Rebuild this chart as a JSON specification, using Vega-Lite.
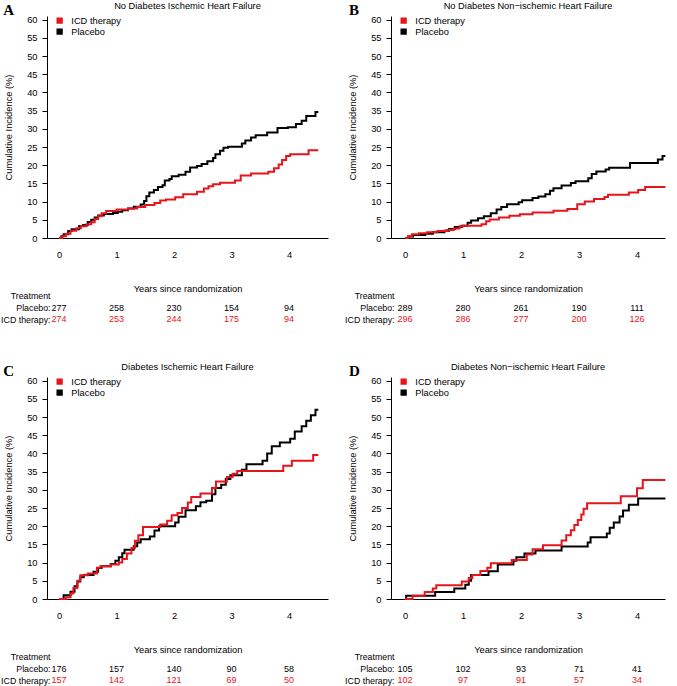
{
  "$schema": "https://vega.github.io/schema/vega-lite/v6.json",
  "padding": {"left": 0, "top": 1, "right": 0, "bottom": 0},
  "background": "white",
  "config": {
    "font": "Liberation Sans",
    "view": {"stroke": null},
    "axis": {"domainColor": "#000", "tickColor": "#000", "labelColor": "#000", "titleColor": "#000", "labelFontSize": 9.3, "titleFontSize": 9.3, "titleFontWeight": "normal", "grid": false, "labelFont": "Liberation Sans", "titleFont": "Liberation Sans", "labelOverlap": false},
    "title": {"fontSize": 9.3, "fontWeight": "normal", "color": "#000", "font": "Liberation Sans"},
    "legend": {"labelFontSize": 9.3, "labelColor": "#000", "labelFont": "Liberation Sans"}
  },
  "datasets": {
    "lineA": [
      {"group": "Placebo", "t": 0, "ci": 0}, {"group": "Placebo", "t": 0.04, "ci": 0.5}, {"group": "Placebo", "t": 0.08, "ci": 1.0}, {"group": "Placebo", "t": 0.16, "ci": 1.9}, {"group": "Placebo", "t": 0.22, "ci": 2.4}, {"group": "Placebo", "t": 0.35, "ci": 3.3}, {"group": "Placebo", "t": 0.42, "ci": 3.6}, {"group": "Placebo", "t": 0.5, "ci": 4.4}, {"group": "Placebo", "t": 0.56, "ci": 5.0}, {"group": "Placebo", "t": 0.62, "ci": 5.6}, {"group": "Placebo", "t": 0.68, "ci": 6.2}, {"group": "Placebo", "t": 0.78, "ci": 6.6}, {"group": "Placebo", "t": 0.94, "ci": 6.9}, {"group": "Placebo", "t": 1.02, "ci": 7.2}, {"group": "Placebo", "t": 1.1, "ci": 7.6}, {"group": "Placebo", "t": 1.2, "ci": 8.1}, {"group": "Placebo", "t": 1.3, "ci": 8.6}, {"group": "Placebo", "t": 1.42, "ci": 9.2}, {"group": "Placebo", "t": 1.48, "ci": 10.2}, {"group": "Placebo", "t": 1.52, "ci": 11.5}, {"group": "Placebo", "t": 1.57, "ci": 12.5}, {"group": "Placebo", "t": 1.65, "ci": 13.2}, {"group": "Placebo", "t": 1.72, "ci": 14.0}, {"group": "Placebo", "t": 1.8, "ci": 14.5}, {"group": "Placebo", "t": 1.84, "ci": 15.8}, {"group": "Placebo", "t": 1.92, "ci": 16.2}, {"group": "Placebo", "t": 1.96, "ci": 17.0}, {"group": "Placebo", "t": 2.08, "ci": 17.4}, {"group": "Placebo", "t": 2.2, "ci": 18.2}, {"group": "Placebo", "t": 2.28, "ci": 19.4}, {"group": "Placebo", "t": 2.4, "ci": 19.8}, {"group": "Placebo", "t": 2.48, "ci": 20.3}, {"group": "Placebo", "t": 2.58, "ci": 21.1}, {"group": "Placebo", "t": 2.68, "ci": 22.0}, {"group": "Placebo", "t": 2.72, "ci": 23.0}, {"group": "Placebo", "t": 2.8, "ci": 24.0}, {"group": "Placebo", "t": 2.86, "ci": 24.8}, {"group": "Placebo", "t": 2.94, "ci": 25.1}, {"group": "Placebo", "t": 3.18, "ci": 26.0}, {"group": "Placebo", "t": 3.24, "ci": 26.8}, {"group": "Placebo", "t": 3.34, "ci": 27.6}, {"group": "Placebo", "t": 3.42, "ci": 28.2}, {"group": "Placebo", "t": 3.62, "ci": 29.0}, {"group": "Placebo", "t": 3.8, "ci": 30.2}, {"group": "Placebo", "t": 3.98, "ci": 30.4}, {"group": "Placebo", "t": 4.12, "ci": 31.3}, {"group": "Placebo", "t": 4.22, "ci": 32.2}, {"group": "Placebo", "t": 4.3, "ci": 33.5}, {"group": "Placebo", "t": 4.46, "ci": 34.6}, {"group": "Placebo", "t": 4.51, "ci": 34.6},
      {"group": "ICD therapy", "t": 0, "ci": 0}, {"group": "ICD therapy", "t": 0.06, "ci": 0.5}, {"group": "ICD therapy", "t": 0.12, "ci": 1.2}, {"group": "ICD therapy", "t": 0.2, "ci": 2.0}, {"group": "ICD therapy", "t": 0.3, "ci": 2.7}, {"group": "ICD therapy", "t": 0.38, "ci": 3.2}, {"group": "ICD therapy", "t": 0.48, "ci": 3.8}, {"group": "ICD therapy", "t": 0.56, "ci": 4.3}, {"group": "ICD therapy", "t": 0.62, "ci": 5.2}, {"group": "ICD therapy", "t": 0.68, "ci": 6.0}, {"group": "ICD therapy", "t": 0.74, "ci": 6.8}, {"group": "ICD therapy", "t": 0.82, "ci": 7.4}, {"group": "ICD therapy", "t": 1.0, "ci": 7.8}, {"group": "ICD therapy", "t": 1.2, "ci": 8.1}, {"group": "ICD therapy", "t": 1.36, "ci": 8.5}, {"group": "ICD therapy", "t": 1.5, "ci": 9.1}, {"group": "ICD therapy", "t": 1.66, "ci": 9.6}, {"group": "ICD therapy", "t": 1.76, "ci": 10.3}, {"group": "ICD therapy", "t": 1.86, "ci": 10.6}, {"group": "ICD therapy", "t": 2.02, "ci": 11.2}, {"group": "ICD therapy", "t": 2.16, "ci": 12.0}, {"group": "ICD therapy", "t": 2.4, "ci": 12.7}, {"group": "ICD therapy", "t": 2.52, "ci": 13.6}, {"group": "ICD therapy", "t": 2.6, "ci": 14.2}, {"group": "ICD therapy", "t": 2.68, "ci": 14.8}, {"group": "ICD therapy", "t": 2.8, "ci": 15.2}, {"group": "ICD therapy", "t": 3.06, "ci": 15.8}, {"group": "ICD therapy", "t": 3.16, "ci": 17.2}, {"group": "ICD therapy", "t": 3.34, "ci": 17.7}, {"group": "ICD therapy", "t": 3.64, "ci": 18.2}, {"group": "ICD therapy", "t": 3.74, "ci": 19.2}, {"group": "ICD therapy", "t": 3.82, "ci": 20.2}, {"group": "ICD therapy", "t": 3.88, "ci": 21.4}, {"group": "ICD therapy", "t": 3.95, "ci": 22.5}, {"group": "ICD therapy", "t": 4.02, "ci": 23.0}, {"group": "ICD therapy", "t": 4.34, "ci": 24.1}, {"group": "ICD therapy", "t": 4.51, "ci": 24.1}
    ],
    "lineB": [
      {"group": "Placebo", "t": 0, "ci": 0}, {"group": "Placebo", "t": 0.06, "ci": 0.4}, {"group": "Placebo", "t": 0.14, "ci": 0.8}, {"group": "Placebo", "t": 0.35, "ci": 1.2}, {"group": "Placebo", "t": 0.48, "ci": 1.6}, {"group": "Placebo", "t": 0.68, "ci": 2.0}, {"group": "Placebo", "t": 0.76, "ci": 2.5}, {"group": "Placebo", "t": 0.86, "ci": 3.0}, {"group": "Placebo", "t": 0.98, "ci": 3.4}, {"group": "Placebo", "t": 1.08, "ci": 4.2}, {"group": "Placebo", "t": 1.14, "ci": 4.8}, {"group": "Placebo", "t": 1.26, "ci": 5.4}, {"group": "Placebo", "t": 1.36, "ci": 6.0}, {"group": "Placebo", "t": 1.48, "ci": 6.8}, {"group": "Placebo", "t": 1.58, "ci": 7.8}, {"group": "Placebo", "t": 1.66, "ci": 8.5}, {"group": "Placebo", "t": 1.76, "ci": 9.3}, {"group": "Placebo", "t": 1.96, "ci": 9.8}, {"group": "Placebo", "t": 2.02, "ci": 10.4}, {"group": "Placebo", "t": 2.2, "ci": 11.0}, {"group": "Placebo", "t": 2.3, "ci": 11.4}, {"group": "Placebo", "t": 2.42, "ci": 12.0}, {"group": "Placebo", "t": 2.5, "ci": 13.0}, {"group": "Placebo", "t": 2.56, "ci": 13.7}, {"group": "Placebo", "t": 2.7, "ci": 14.4}, {"group": "Placebo", "t": 2.86, "ci": 15.1}, {"group": "Placebo", "t": 2.94, "ci": 15.6}, {"group": "Placebo", "t": 3.16, "ci": 16.4}, {"group": "Placebo", "t": 3.22, "ci": 17.6}, {"group": "Placebo", "t": 3.3, "ci": 18.3}, {"group": "Placebo", "t": 3.46, "ci": 18.8}, {"group": "Placebo", "t": 3.52, "ci": 19.3}, {"group": "Placebo", "t": 3.88, "ci": 20.6}, {"group": "Placebo", "t": 4.36, "ci": 21.6}, {"group": "Placebo", "t": 4.44, "ci": 22.5}, {"group": "Placebo", "t": 4.49, "ci": 22.5},
      {"group": "ICD therapy", "t": 0, "ci": 0}, {"group": "ICD therapy", "t": 0.05, "ci": 0.5}, {"group": "ICD therapy", "t": 0.12, "ci": 1.0}, {"group": "ICD therapy", "t": 0.24, "ci": 1.3}, {"group": "ICD therapy", "t": 0.38, "ci": 1.6}, {"group": "ICD therapy", "t": 0.56, "ci": 1.9}, {"group": "ICD therapy", "t": 0.72, "ci": 2.2}, {"group": "ICD therapy", "t": 0.84, "ci": 2.6}, {"group": "ICD therapy", "t": 0.94, "ci": 3.2}, {"group": "ICD therapy", "t": 1.0, "ci": 3.4}, {"group": "ICD therapy", "t": 1.32, "ci": 3.8}, {"group": "ICD therapy", "t": 1.4, "ci": 4.6}, {"group": "ICD therapy", "t": 1.46, "ci": 5.1}, {"group": "ICD therapy", "t": 1.62, "ci": 5.6}, {"group": "ICD therapy", "t": 1.8, "ci": 6.1}, {"group": "ICD therapy", "t": 1.98, "ci": 6.5}, {"group": "ICD therapy", "t": 2.2, "ci": 7.0}, {"group": "ICD therapy", "t": 2.56, "ci": 7.5}, {"group": "ICD therapy", "t": 2.8, "ci": 8.0}, {"group": "ICD therapy", "t": 2.97, "ci": 9.3}, {"group": "ICD therapy", "t": 3.1, "ci": 10.0}, {"group": "ICD therapy", "t": 3.26, "ci": 10.7}, {"group": "ICD therapy", "t": 3.44, "ci": 11.3}, {"group": "ICD therapy", "t": 3.5, "ci": 11.9}, {"group": "ICD therapy", "t": 3.86, "ci": 12.5}, {"group": "ICD therapy", "t": 4.02, "ci": 13.2}, {"group": "ICD therapy", "t": 4.14, "ci": 14.0}, {"group": "ICD therapy", "t": 4.49, "ci": 14.0}
    ],
    "lineC": [
      {"group": "Placebo", "t": 0, "ci": 0}, {"group": "Placebo", "t": 0.08, "ci": 1.0}, {"group": "Placebo", "t": 0.2, "ci": 2.0}, {"group": "Placebo", "t": 0.27, "ci": 3.5}, {"group": "Placebo", "t": 0.32, "ci": 4.8}, {"group": "Placebo", "t": 0.37, "ci": 6.0}, {"group": "Placebo", "t": 0.43, "ci": 6.6}, {"group": "Placebo", "t": 0.6, "ci": 7.5}, {"group": "Placebo", "t": 0.68, "ci": 8.5}, {"group": "Placebo", "t": 0.74, "ci": 9.0}, {"group": "Placebo", "t": 0.9, "ci": 9.6}, {"group": "Placebo", "t": 0.98, "ci": 10.5}, {"group": "Placebo", "t": 1.04, "ci": 11.5}, {"group": "Placebo", "t": 1.1, "ci": 12.6}, {"group": "Placebo", "t": 1.14, "ci": 13.5}, {"group": "Placebo", "t": 1.3, "ci": 14.5}, {"group": "Placebo", "t": 1.36, "ci": 15.5}, {"group": "Placebo", "t": 1.42, "ci": 16.4}, {"group": "Placebo", "t": 1.58, "ci": 17.2}, {"group": "Placebo", "t": 1.66, "ci": 18.8}, {"group": "Placebo", "t": 1.74, "ci": 20.0}, {"group": "Placebo", "t": 2.02, "ci": 21.0}, {"group": "Placebo", "t": 2.08, "ci": 22.6}, {"group": "Placebo", "t": 2.2, "ci": 24.4}, {"group": "Placebo", "t": 2.38, "ci": 25.5}, {"group": "Placebo", "t": 2.46, "ci": 26.6}, {"group": "Placebo", "t": 2.56, "ci": 27.0}, {"group": "Placebo", "t": 2.66, "ci": 28.8}, {"group": "Placebo", "t": 2.72, "ci": 30.5}, {"group": "Placebo", "t": 2.82, "ci": 31.4}, {"group": "Placebo", "t": 2.9, "ci": 33.0}, {"group": "Placebo", "t": 2.98, "ci": 34.0}, {"group": "Placebo", "t": 3.18, "ci": 35.5}, {"group": "Placebo", "t": 3.26, "ci": 37.0}, {"group": "Placebo", "t": 3.54, "ci": 38.0}, {"group": "Placebo", "t": 3.62, "ci": 40.0}, {"group": "Placebo", "t": 3.7, "ci": 42.0}, {"group": "Placebo", "t": 3.84, "ci": 43.0}, {"group": "Placebo", "t": 4.02, "ci": 44.0}, {"group": "Placebo", "t": 4.1, "ci": 46.0}, {"group": "Placebo", "t": 4.22, "ci": 47.5}, {"group": "Placebo", "t": 4.3, "ci": 49.0}, {"group": "Placebo", "t": 4.38, "ci": 50.5}, {"group": "Placebo", "t": 4.46, "ci": 52.0}, {"group": "Placebo", "t": 4.51, "ci": 52.0},
      {"group": "ICD therapy", "t": 0, "ci": 0}, {"group": "ICD therapy", "t": 0.12, "ci": 0.5}, {"group": "ICD therapy", "t": 0.2, "ci": 1.5}, {"group": "ICD therapy", "t": 0.25, "ci": 3.0}, {"group": "ICD therapy", "t": 0.32, "ci": 5.0}, {"group": "ICD therapy", "t": 0.37, "ci": 6.5}, {"group": "ICD therapy", "t": 0.5, "ci": 7.0}, {"group": "ICD therapy", "t": 0.66, "ci": 8.6}, {"group": "ICD therapy", "t": 0.72, "ci": 9.0}, {"group": "ICD therapy", "t": 0.9, "ci": 9.5}, {"group": "ICD therapy", "t": 1.04, "ci": 10.0}, {"group": "ICD therapy", "t": 1.1, "ci": 11.0}, {"group": "ICD therapy", "t": 1.18, "ci": 12.5}, {"group": "ICD therapy", "t": 1.26, "ci": 14.0}, {"group": "ICD therapy", "t": 1.32, "ci": 16.0}, {"group": "ICD therapy", "t": 1.38, "ci": 17.5}, {"group": "ICD therapy", "t": 1.46, "ci": 19.8}, {"group": "ICD therapy", "t": 1.76, "ci": 20.5}, {"group": "ICD therapy", "t": 1.88, "ci": 21.5}, {"group": "ICD therapy", "t": 1.96, "ci": 23.0}, {"group": "ICD therapy", "t": 2.06, "ci": 23.6}, {"group": "ICD therapy", "t": 2.14, "ci": 25.0}, {"group": "ICD therapy", "t": 2.24, "ci": 26.5}, {"group": "ICD therapy", "t": 2.3, "ci": 28.0}, {"group": "ICD therapy", "t": 2.46, "ci": 29.0}, {"group": "ICD therapy", "t": 2.66, "ci": 30.5}, {"group": "ICD therapy", "t": 2.73, "ci": 32.3}, {"group": "ICD therapy", "t": 2.92, "ci": 33.5}, {"group": "ICD therapy", "t": 3.02, "ci": 34.4}, {"group": "ICD therapy", "t": 3.1, "ci": 35.2}, {"group": "ICD therapy", "t": 3.9, "ci": 36.6}, {"group": "ICD therapy", "t": 4.05, "ci": 38.0}, {"group": "ICD therapy", "t": 4.42, "ci": 39.6}, {"group": "ICD therapy", "t": 4.51, "ci": 39.6}
    ],
    "lineD": [
      {"group": "Placebo", "t": 0, "ci": 0}, {"group": "Placebo", "t": 0.02, "ci": 0.9}, {"group": "Placebo", "t": 0.52, "ci": 1.9}, {"group": "Placebo", "t": 0.85, "ci": 2.9}, {"group": "Placebo", "t": 1.04, "ci": 3.9}, {"group": "Placebo", "t": 1.1, "ci": 5.0}, {"group": "Placebo", "t": 1.14, "ci": 6.6}, {"group": "Placebo", "t": 1.44, "ci": 7.6}, {"group": "Placebo", "t": 1.6, "ci": 9.5}, {"group": "Placebo", "t": 1.87, "ci": 10.5}, {"group": "Placebo", "t": 1.92, "ci": 11.5}, {"group": "Placebo", "t": 2.06, "ci": 12.5}, {"group": "Placebo", "t": 2.25, "ci": 13.3}, {"group": "Placebo", "t": 2.7, "ci": 14.4}, {"group": "Placebo", "t": 3.15, "ci": 15.5}, {"group": "Placebo", "t": 3.2, "ci": 17.0}, {"group": "Placebo", "t": 3.48, "ci": 18.0}, {"group": "Placebo", "t": 3.53, "ci": 19.6}, {"group": "Placebo", "t": 3.6, "ci": 21.0}, {"group": "Placebo", "t": 3.7, "ci": 22.7}, {"group": "Placebo", "t": 3.76, "ci": 24.3}, {"group": "Placebo", "t": 3.86, "ci": 25.9}, {"group": "Placebo", "t": 4.02, "ci": 27.6}, {"group": "Placebo", "t": 4.49, "ci": 27.6},
      {"group": "ICD therapy", "t": 0, "ci": 0}, {"group": "ICD therapy", "t": 0.13, "ci": 0.9}, {"group": "ICD therapy", "t": 0.34, "ci": 1.9}, {"group": "ICD therapy", "t": 0.48, "ci": 2.9}, {"group": "ICD therapy", "t": 0.54, "ci": 3.8}, {"group": "ICD therapy", "t": 0.98, "ci": 4.8}, {"group": "ICD therapy", "t": 1.1, "ci": 5.8}, {"group": "ICD therapy", "t": 1.16, "ci": 6.6}, {"group": "ICD therapy", "t": 1.3, "ci": 7.7}, {"group": "ICD therapy", "t": 1.42, "ci": 8.6}, {"group": "ICD therapy", "t": 1.48, "ci": 9.8}, {"group": "ICD therapy", "t": 1.84, "ci": 10.7}, {"group": "ICD therapy", "t": 2.1, "ci": 12.2}, {"group": "ICD therapy", "t": 2.2, "ci": 13.7}, {"group": "ICD therapy", "t": 2.38, "ci": 14.8}, {"group": "ICD therapy", "t": 2.7, "ci": 16.1}, {"group": "ICD therapy", "t": 2.78, "ci": 17.5}, {"group": "ICD therapy", "t": 2.86, "ci": 18.9}, {"group": "ICD therapy", "t": 2.92, "ci": 20.3}, {"group": "ICD therapy", "t": 2.98, "ci": 21.7}, {"group": "ICD therapy", "t": 3.04, "ci": 23.2}, {"group": "ICD therapy", "t": 3.08, "ci": 24.8}, {"group": "ICD therapy", "t": 3.14, "ci": 26.3}, {"group": "ICD therapy", "t": 3.72, "ci": 28.2}, {"group": "ICD therapy", "t": 4.0, "ci": 30.4}, {"group": "ICD therapy", "t": 4.1, "ci": 32.7}, {"group": "ICD therapy", "t": 4.49, "ci": 32.7}
    ],
    "tabA": [
      {"group": "Placebo", "t": 0, "n": 277}, {"group": "Placebo", "t": 1, "n": 258}, {"group": "Placebo", "t": 2, "n": 230}, {"group": "Placebo", "t": 3, "n": 154}, {"group": "Placebo", "t": 4, "n": 94},
      {"group": "ICD therapy", "t": 0, "n": 274}, {"group": "ICD therapy", "t": 1, "n": 253}, {"group": "ICD therapy", "t": 2, "n": 244}, {"group": "ICD therapy", "t": 3, "n": 175}, {"group": "ICD therapy", "t": 4, "n": 94}
    ],
    "tabB": [
      {"group": "Placebo", "t": 0, "n": 289}, {"group": "Placebo", "t": 1, "n": 280}, {"group": "Placebo", "t": 2, "n": 261}, {"group": "Placebo", "t": 3, "n": 190}, {"group": "Placebo", "t": 4, "n": 111},
      {"group": "ICD therapy", "t": 0, "n": 296}, {"group": "ICD therapy", "t": 1, "n": 286}, {"group": "ICD therapy", "t": 2, "n": 277}, {"group": "ICD therapy", "t": 3, "n": 200}, {"group": "ICD therapy", "t": 4, "n": 126}
    ],
    "tabC": [
      {"group": "Placebo", "t": 0, "n": 176}, {"group": "Placebo", "t": 1, "n": 157}, {"group": "Placebo", "t": 2, "n": 140}, {"group": "Placebo", "t": 3, "n": 90}, {"group": "Placebo", "t": 4, "n": 58},
      {"group": "ICD therapy", "t": 0, "n": 157}, {"group": "ICD therapy", "t": 1, "n": 142}, {"group": "ICD therapy", "t": 2, "n": 121}, {"group": "ICD therapy", "t": 3, "n": 69}, {"group": "ICD therapy", "t": 4, "n": 50}
    ],
    "tabD": [
      {"group": "Placebo", "t": 0, "n": 105}, {"group": "Placebo", "t": 1, "n": 102}, {"group": "Placebo", "t": 2, "n": 93}, {"group": "Placebo", "t": 3, "n": 71}, {"group": "Placebo", "t": 4, "n": 41},
      {"group": "ICD therapy", "t": 0, "n": 102}, {"group": "ICD therapy", "t": 1, "n": 97}, {"group": "ICD therapy", "t": 2, "n": 91}, {"group": "ICD therapy", "t": 3, "n": 57}, {"group": "ICD therapy", "t": 4, "n": 34}
    ]
  },
  "columns": 2,
  "spacing": {"row": 52, "column": 63},
  "bounds": "flush",
  "resolve": {"scale": {"color": "independent"}},
  "concat": [
    {
      "width": 281, "height": 222,
      "title": {"text": "No Diabetes Ischemic Heart Failure", "anchor": "middle", "frame": "group", "baseline": "alphabetic", "offset": -15},
      "layer": [
        {
          "data": {"name": "lineA"},
          "mark": {"type": "line", "interpolate": "step-after", "strokeWidth": 2},
          "encoding": {
            "x": {"field": "t", "type": "quantitative", "scale": {"domain": [-0.209, 4.678], "nice": false, "zero": false}, "axis": {"values": [0, 1, 2, 3, 4], "format": "d", "ticks": false, "tickSize": 0, "labelPadding": 12, "labelFlush": false, "labelOverlap": false, "title": "Years since randomization", "titlePadding": 25}},
            "y": {"field": "ci", "type": "quantitative", "scale": {"domain": [0, 61], "nice": false}, "axis": {"values": [0, 5, 10, 15, 20, 25, 30, 35, 40, 45, 50, 55, 60], "labelOverlap": false, "tickSize": 5, "labelPadding": 5, "title": "Cumulative Incidence (%)", "titlePadding": 13}},
            "color": {"field": "group", "type": "nominal", "scale": {"domain": ["ICD therapy", "Placebo"], "range": ["#e8141b", "#000000"]}, "legend": {"orient": "none", "legendX": 8, "legendY": 0, "title": null, "symbolType": "M-1,-1H1V1H-1Z M-0.6,-0.6H0.6V0.6H-0.6Z M-0.2,-0.2H0.2V0.2H-0.2Z", "symbolSize": 23, "symbolStrokeWidth": 1.5, "padding": 0, "rowPadding": -2, "labelOffset": 7}}
          }
        },
        {
          "data": {"values": [{"panel": "A"}]},
          "mark": {"type": "text", "font": "Liberation Serif", "fontSize": 15, "fontWeight": "bold", "align": "left", "baseline": "alphabetic"},
          "encoding": {
            "x": {"datum": -0.97, "type": "quantitative", "scale": {"domain": [-0.209, 4.678], "nice": false, "zero": false}, "axis": {"values": [0, 1, 2, 3, 4], "format": "d", "ticks": false, "tickSize": 0, "labelPadding": 12, "labelFlush": false, "labelOverlap": false, "title": "Years since randomization", "titlePadding": 25}},
            "y": {"datum": 61.3, "type": "quantitative", "scale": {"domain": [0, 61], "nice": false}, "axis": {"values": [0, 5, 10, 15, 20, 25, 30, 35, 40, 45, 50, 55, 60], "labelOverlap": false, "tickSize": 5, "labelPadding": 5, "title": "Cumulative Incidence (%)", "titlePadding": 13}},
            "text": {"field": "panel", "type": "nominal"}
          }
        }
      ]
    },
    {
      "width": 274, "height": 222,
      "title": {"text": "No Diabetes Non\u2212ischemic Heart Failure", "anchor": "middle", "frame": "group", "baseline": "alphabetic", "offset": -15},
      "layer": [
        {
          "data": {"name": "lineB"},
          "mark": {"type": "line", "interpolate": "step-after", "strokeWidth": 2},
          "encoding": {
            "x": {"field": "t", "type": "quantitative", "scale": {"domain": [-0.241, 4.483], "nice": false, "zero": false}, "axis": {"values": [0, 1, 2, 3, 4], "format": "d", "ticks": false, "tickSize": 0, "labelPadding": 12, "labelFlush": false, "labelOverlap": false, "title": "Years since randomization", "titlePadding": 25}},
            "y": {"field": "ci", "type": "quantitative", "scale": {"domain": [0, 61], "nice": false}, "axis": {"values": [0, 5, 10, 15, 20, 25, 30, 35, 40, 45, 50, 55, 60], "labelOverlap": false, "tickSize": 5, "labelPadding": 5, "title": "Cumulative Incidence (%)", "titlePadding": 13}},
            "color": {"field": "group", "type": "nominal", "scale": {"domain": ["ICD therapy", "Placebo"], "range": ["#e8141b", "#000000"]}, "legend": {"orient": "none", "legendX": 8, "legendY": 0, "title": null, "symbolType": "M-1,-1H1V1H-1Z M-0.6,-0.6H0.6V0.6H-0.6Z M-0.2,-0.2H0.2V0.2H-0.2Z", "symbolSize": 23, "symbolStrokeWidth": 1.5, "padding": 0, "rowPadding": -2, "labelOffset": 7}}
          }
        },
        {
          "data": {"values": [{"panel": "B"}]},
          "mark": {"type": "text", "font": "Liberation Serif", "fontSize": 15, "fontWeight": "bold", "align": "left", "baseline": "alphabetic"},
          "encoding": {
            "x": {"datum": -0.965, "type": "quantitative", "scale": {"domain": [-0.241, 4.483], "nice": false, "zero": false}, "axis": {"values": [0, 1, 2, 3, 4], "format": "d", "ticks": false, "tickSize": 0, "labelPadding": 12, "labelFlush": false, "labelOverlap": false, "title": "Years since randomization", "titlePadding": 25}},
            "y": {"datum": 61.3, "type": "quantitative", "scale": {"domain": [0, 61], "nice": false}, "axis": {"values": [0, 5, 10, 15, 20, 25, 30, 35, 40, 45, 50, 55, 60], "labelOverlap": false, "tickSize": 5, "labelPadding": 5, "title": "Cumulative Incidence (%)", "titlePadding": 13}},
            "text": {"field": "panel", "type": "nominal"}
          }
        }
      ]
    },
    {
      "width": 281, "height": 35,
      "data": {"name": "tabA"},
      "mark": {"type": "text", "fontSize": 9},
      "encoding": {
        "x": {"field": "t", "type": "quantitative", "scale": {"domain": [-0.209, 4.678], "nice": false, "zero": false}, "axis": null},
        "y": {"field": "group", "type": "nominal", "scale": {"domain": ["Treatment", "Placebo", "ICD therapy"], "paddingInner": 0, "paddingOuter": 0}, "axis": {"title": null, "domain": false, "ticks": false, "tickSize": 0, "labelPadding": -3, "labelFontSize": 8.8, "labelExpr": "datum.label == 'Treatment' ? 'Treatment' : datum.label + ':'"}},
        "text": {"field": "n", "type": "quantitative"},
        "color": {"field": "group", "type": "nominal", "scale": {"domain": ["ICD therapy", "Placebo"], "range": ["#e8141b", "#000000"]}, "legend": null}
      }
    },
    {
      "width": 274, "height": 35,
      "data": {"name": "tabB"},
      "mark": {"type": "text", "fontSize": 9},
      "encoding": {
        "x": {"field": "t", "type": "quantitative", "scale": {"domain": [-0.241, 4.483], "nice": false, "zero": false}, "axis": null},
        "y": {"field": "group", "type": "nominal", "scale": {"domain": ["Treatment", "Placebo", "ICD therapy"], "paddingInner": 0, "paddingOuter": 0}, "axis": {"title": null, "domain": false, "ticks": false, "tickSize": 0, "labelPadding": -3, "labelFontSize": 8.8, "labelExpr": "datum.label == 'Treatment' ? 'Treatment' : datum.label + ':'"}},
        "text": {"field": "n", "type": "quantitative"},
        "color": {"field": "group", "type": "nominal", "scale": {"domain": ["ICD therapy", "Placebo"], "range": ["#e8141b", "#000000"]}, "legend": null}
      }
    },
    {
      "width": 281, "height": 222,
      "title": {"text": "Diabetes Ischemic Heart Failure", "anchor": "middle", "frame": "group", "baseline": "alphabetic", "offset": -15},
      "layer": [
        {
          "data": {"name": "lineC"},
          "mark": {"type": "line", "interpolate": "step-after", "strokeWidth": 2},
          "encoding": {
            "x": {"field": "t", "type": "quantitative", "scale": {"domain": [-0.209, 4.678], "nice": false, "zero": false}, "axis": {"values": [0, 1, 2, 3, 4], "format": "d", "ticks": false, "tickSize": 0, "labelPadding": 12, "labelFlush": false, "labelOverlap": false, "title": "Years since randomization", "titlePadding": 25}},
            "y": {"field": "ci", "type": "quantitative", "scale": {"domain": [0, 61], "nice": false}, "axis": {"values": [0, 5, 10, 15, 20, 25, 30, 35, 40, 45, 50, 55, 60], "labelOverlap": false, "tickSize": 5, "labelPadding": 5, "title": "Cumulative Incidence (%)", "titlePadding": 13}},
            "color": {"field": "group", "type": "nominal", "scale": {"domain": ["ICD therapy", "Placebo"], "range": ["#e8141b", "#000000"]}, "legend": {"orient": "none", "legendX": 8, "legendY": 0, "title": null, "symbolType": "M-1,-1H1V1H-1Z M-0.6,-0.6H0.6V0.6H-0.6Z M-0.2,-0.2H0.2V0.2H-0.2Z", "symbolSize": 23, "symbolStrokeWidth": 1.5, "padding": 0, "rowPadding": -2, "labelOffset": 7}}
          }
        },
        {
          "data": {"values": [{"panel": "C"}]},
          "mark": {"type": "text", "font": "Liberation Serif", "fontSize": 15, "fontWeight": "bold", "align": "left", "baseline": "alphabetic"},
          "encoding": {
            "x": {"datum": -0.97, "type": "quantitative", "scale": {"domain": [-0.209, 4.678], "nice": false, "zero": false}, "axis": {"values": [0, 1, 2, 3, 4], "format": "d", "ticks": false, "tickSize": 0, "labelPadding": 12, "labelFlush": false, "labelOverlap": false, "title": "Years since randomization", "titlePadding": 25}},
            "y": {"datum": 61.3, "type": "quantitative", "scale": {"domain": [0, 61], "nice": false}, "axis": {"values": [0, 5, 10, 15, 20, 25, 30, 35, 40, 45, 50, 55, 60], "labelOverlap": false, "tickSize": 5, "labelPadding": 5, "title": "Cumulative Incidence (%)", "titlePadding": 13}},
            "text": {"field": "panel", "type": "nominal"}
          }
        }
      ]
    },
    {
      "width": 274, "height": 222,
      "title": {"text": "Diabetes Non\u2212ischemic Heart Failure", "anchor": "middle", "frame": "group", "baseline": "alphabetic", "offset": -15},
      "layer": [
        {
          "data": {"name": "lineD"},
          "mark": {"type": "line", "interpolate": "step-after", "strokeWidth": 2},
          "encoding": {
            "x": {"field": "t", "type": "quantitative", "scale": {"domain": [-0.241, 4.483], "nice": false, "zero": false}, "axis": {"values": [0, 1, 2, 3, 4], "format": "d", "ticks": false, "tickSize": 0, "labelPadding": 12, "labelFlush": false, "labelOverlap": false, "title": "Years since randomization", "titlePadding": 25}},
            "y": {"field": "ci", "type": "quantitative", "scale": {"domain": [0, 61], "nice": false}, "axis": {"values": [0, 5, 10, 15, 20, 25, 30, 35, 40, 45, 50, 55, 60], "labelOverlap": false, "tickSize": 5, "labelPadding": 5, "title": "Cumulative Incidence (%)", "titlePadding": 13}},
            "color": {"field": "group", "type": "nominal", "scale": {"domain": ["ICD therapy", "Placebo"], "range": ["#e8141b", "#000000"]}, "legend": {"orient": "none", "legendX": 8, "legendY": 0, "title": null, "symbolType": "M-1,-1H1V1H-1Z M-0.6,-0.6H0.6V0.6H-0.6Z M-0.2,-0.2H0.2V0.2H-0.2Z", "symbolSize": 23, "symbolStrokeWidth": 1.5, "padding": 0, "rowPadding": -2, "labelOffset": 7}}
          }
        },
        {
          "data": {"values": [{"panel": "D"}]},
          "mark": {"type": "text", "font": "Liberation Serif", "fontSize": 15, "fontWeight": "bold", "align": "left", "baseline": "alphabetic"},
          "encoding": {
            "x": {"datum": -0.965, "type": "quantitative", "scale": {"domain": [-0.241, 4.483], "nice": false, "zero": false}, "axis": {"values": [0, 1, 2, 3, 4], "format": "d", "ticks": false, "tickSize": 0, "labelPadding": 12, "labelFlush": false, "labelOverlap": false, "title": "Years since randomization", "titlePadding": 25}},
            "y": {"datum": 61.3, "type": "quantitative", "scale": {"domain": [0, 61], "nice": false}, "axis": {"values": [0, 5, 10, 15, 20, 25, 30, 35, 40, 45, 50, 55, 60], "labelOverlap": false, "tickSize": 5, "labelPadding": 5, "title": "Cumulative Incidence (%)", "titlePadding": 13}},
            "text": {"field": "panel", "type": "nominal"}
          }
        }
      ]
    },
    {
      "width": 281, "height": 35,
      "data": {"name": "tabC"},
      "mark": {"type": "text", "fontSize": 9},
      "encoding": {
        "x": {"field": "t", "type": "quantitative", "scale": {"domain": [-0.209, 4.678], "nice": false, "zero": false}, "axis": null},
        "y": {"field": "group", "type": "nominal", "scale": {"domain": ["Treatment", "Placebo", "ICD therapy"], "paddingInner": 0, "paddingOuter": 0}, "axis": {"title": null, "domain": false, "ticks": false, "tickSize": 0, "labelPadding": -3, "labelFontSize": 8.8, "labelExpr": "datum.label == 'Treatment' ? 'Treatment' : datum.label + ':'"}},
        "text": {"field": "n", "type": "quantitative"},
        "color": {"field": "group", "type": "nominal", "scale": {"domain": ["ICD therapy", "Placebo"], "range": ["#e8141b", "#000000"]}, "legend": null}
      }
    },
    {
      "width": 274, "height": 35,
      "data": {"name": "tabD"},
      "mark": {"type": "text", "fontSize": 9},
      "encoding": {
        "x": {"field": "t", "type": "quantitative", "scale": {"domain": [-0.241, 4.483], "nice": false, "zero": false}, "axis": null},
        "y": {"field": "group", "type": "nominal", "scale": {"domain": ["Treatment", "Placebo", "ICD therapy"], "paddingInner": 0, "paddingOuter": 0}, "axis": {"title": null, "domain": false, "ticks": false, "tickSize": 0, "labelPadding": -3, "labelFontSize": 8.8, "labelExpr": "datum.label == 'Treatment' ? 'Treatment' : datum.label + ':'"}},
        "text": {"field": "n", "type": "quantitative"},
        "color": {"field": "group", "type": "nominal", "scale": {"domain": ["ICD therapy", "Placebo"], "range": ["#e8141b", "#000000"]}, "legend": null}
      }
    }
  ]
}
